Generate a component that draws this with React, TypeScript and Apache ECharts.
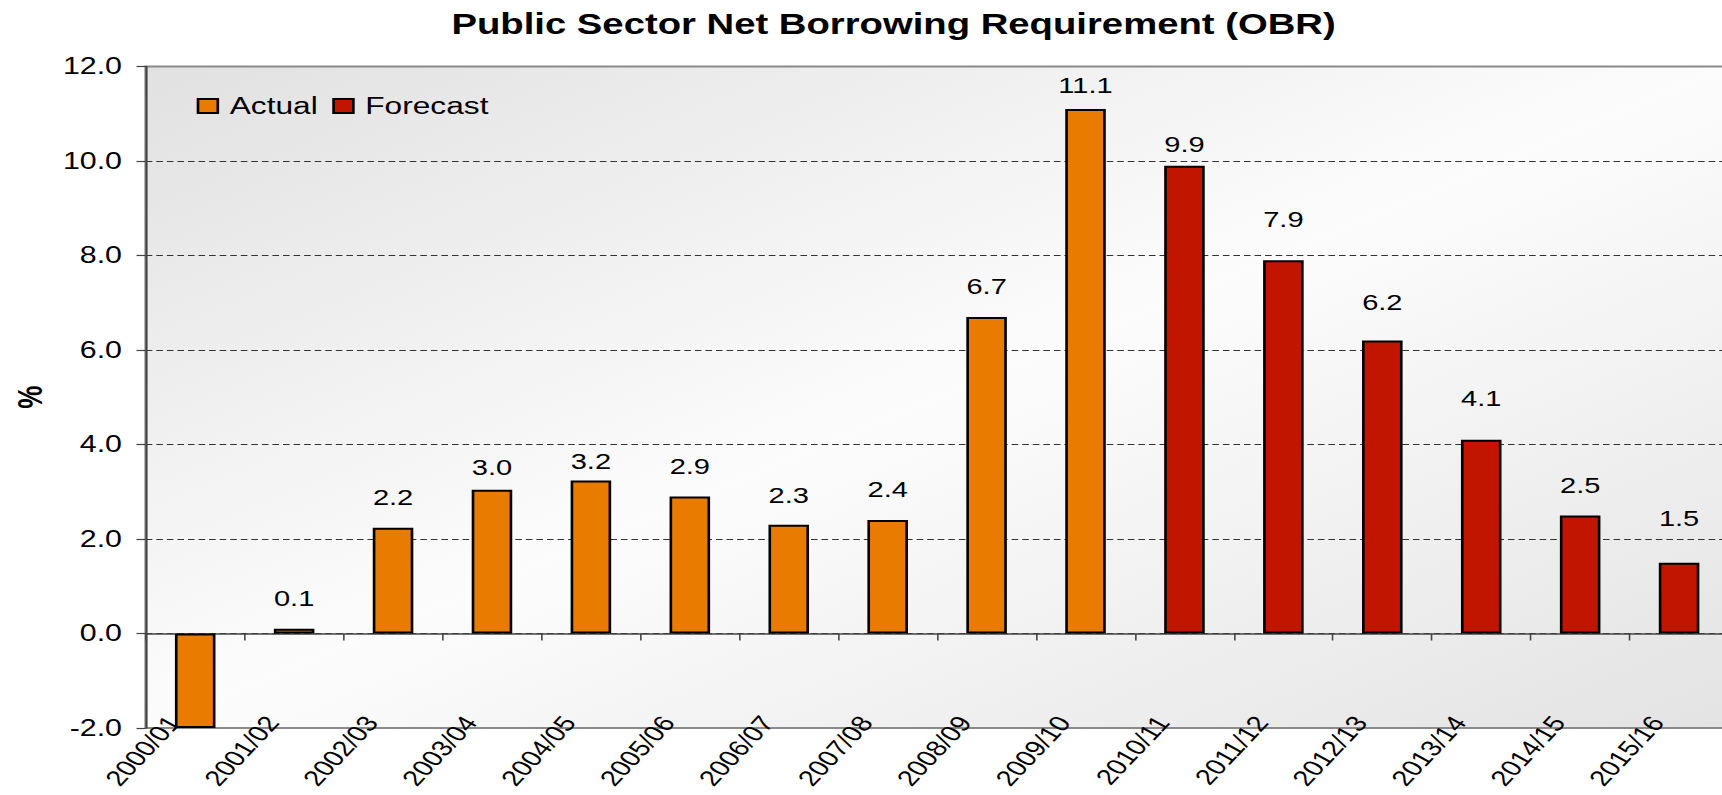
import React, { useEffect, useRef } from "react";
import * as echarts from "echarts";

// ---- data ----
const categories = [
  "2000/01", "2001/02", "2002/03", "2003/04", "2004/05", "2005/06", "2006/07", "2007/08",
  "2008/09", "2009/10", "2010/11", "2011/12", "2012/13", "2013/14", "2014/15", "2015/16",
];
const actualValues = [-2.0, 0.1, 2.24, 3.04, 3.24, 2.9, 2.3, 2.4, 6.7, 11.1, null, null, null, null, null, null];
const forecastValues = [null, null, null, null, null, null, null, null, null, null, 9.9, 7.9, 6.2, 4.1, 2.5, 1.5];
const seriesNames = ["Actual", "Forecast"];
const titleText = "Public Sector Net Borrowing Requirement (OBR)";
const yAxisName = "%";
const yMin = -2;
const yMax = 12;
const yStep = 2;

// ---- label lift above bar (style only) ----
const labelLift = [0, 19, 19, 12, 8, 19, 19, 20, 20, 13, 10, 30, 27, 30, 19, 33];
const hiddenLabel = [true, false, false, false, false, false, false, false, false, false, false, false, false, false, false, false];

// ---- layout (unstretched px; the page image is stretched horizontally) ----
const STRETCH = 1.32;
const W = 1722 / STRETCH;
const H = 795;
const G_LEFT = 110.4;
const G_RIGHT = -4.5;
const G_TOP = 66.5;
const G_BOTTOM = 67;
const FONT = "'Liberation Sans', Arial, Helvetica, sans-serif";

function buildData(vals: (number | null)[]) {
  return vals.map((v, i) =>
    v === null
      ? null
      : { value: v, label: { show: !hiddenLabel[i], distance: labelLift[i] } }
  );
}

export default function App() {
  const ref = useRef<HTMLDivElement>(null);

  useEffect(() => {
    document.body.style.overflow = "hidden";
    if (!ref.current) return;
    const chart = echarts.init(ref.current, undefined, { renderer: "svg" });

    const L = G_LEFT;
    const T = G_TOP;
    const R = W - G_RIGHT;
    const B = H - G_BOTTOM;
    const gw = R - L;
    const gh = B - T;
    const cx = (L + R) / 2;
    const cy = (T + B) / 2;
    const len = Math.sqrt(gw * gw + gh * gh);
    const dx = gh / len;
    const dy = gw / len;
    const proj = Math.abs((-(gw / 2)) * dx + (-(gh / 2)) * dy);

    const bg = new echarts.graphic.LinearGradient(
      cx - proj * dx,
      cy - proj * dy,
      cx + proj * dx,
      cy + proj * dy,
      [
        { offset: 0, color: "#e1e1e1" },
        { offset: 0.5, color: "#fcfcfc" },
        { offset: 1, color: "#e3e3e3" },
      ],
      true
    );

    const labelCommon = {
      show: true,
      position: "top",
      fontSize: 22,
      color: "#000",
      fontFamily: FONT,
      formatter: (p: any) => (typeof p.value === "number" ? p.value.toFixed(1) : ""),
    };

    chart.setOption({
      animation: false,
      textStyle: { fontFamily: FONT },
      title: {
        text: titleText,
        left: 337,
        top: 4,
        textStyle: { fontSize: 29, fontWeight: "bold", color: "#000", fontFamily: FONT },
      },
      legend: {
        data: seriesNames,
        left: 149,
        top: 94,
        padding: 0,
        itemWidth: 15,
        itemHeight: 14,
        itemGap: 11,
        icon: "rect",
        selectedMode: false,
        textStyle: { fontSize: 24, color: "#000", fontFamily: FONT, padding: [0, 0, 6, 4] },
      },
      grid: {
        left: G_LEFT,
        right: G_RIGHT,
        top: G_TOP,
        bottom: G_BOTTOM,
        containLabel: false,
        outerBoundsMode: "none",
        show: true,
        backgroundColor: bg,
        borderColor: "#8a8a8a",
        borderWidth: 2,
      },
      xAxis: [
        {
          type: "category",
          data: categories,
          position: "bottom",
          axisLine: { show: true, onZero: true, lineStyle: { color: "#444", width: 1.5 } },
          axisTick: { show: true, length: 7, lineStyle: { color: "#444", width: 1.2 } },
          axisLabel: { show: false },
          splitLine: { show: false },
        },
        {
          type: "category",
          data: categories,
          position: "bottom",
          axisLine: { show: false, onZero: false },
          axisTick: { show: false },
          splitLine: { show: false },
          axisLabel: {
            show: true,
            interval: 0,
            rotate: 54,
            margin: -32,
            padding: [0, 28, 0, 0],
            fontSize: 22,
            color: "#000",
            fontFamily: FONT,
          },
        },
      ],
      yAxis: {
        type: "value",
        min: yMin,
        max: yMax,
        interval: yStep,
        name: yAxisName,
        nameLocation: "middle",
        nameGap: 75,
        nameTextStyle: { fontSize: 26, fontWeight: "bold", color: "#000", fontFamily: FONT },
        axisLine: { show: true, lineStyle: { color: "#444", width: 1.6 } },
        axisTick: { show: true, length: 7, lineStyle: { color: "#444", width: 1.2 } },
        axisLabel: {
          fontSize: 23,
          color: "#000",
          margin: 18,
          fontFamily: FONT,
          formatter: (v: number) => v.toFixed(1),
        },
        splitLine: {
          show: true,
          showMinLine: false,
          showMaxLine: false,
          lineStyle: { type: [5, 3], color: "#333", width: 1 },
        },
      },
      series: [
        {
          name: seriesNames[0],
          type: "bar",
          xAxisIndex: 0,
          data: buildData(actualValues),
          barWidth: "41%",
          barGap: "-100%",
          itemStyle: { color: "#E97B00", borderColor: "#000", borderWidth: 2 },
          label: labelCommon,
        },
        {
          name: seriesNames[1],
          type: "bar",
          xAxisIndex: 0,
          data: buildData(forecastValues),
          barWidth: "41%",
          barGap: "-100%",
          itemStyle: { color: "#C21500", borderColor: "#000", borderWidth: 2 },
          label: labelCommon,
        },
      ],
    });

    return () => {
      chart.dispose();
    };
  }, []);

  return (
    <div
      ref={ref}
      style={{
        position: "absolute",
        left: 0,
        top: 0,
        width: W,
        height: H,
        transform: `scaleX(${STRETCH})`,
        transformOrigin: "0 0",
      }}
    />
  );
}
